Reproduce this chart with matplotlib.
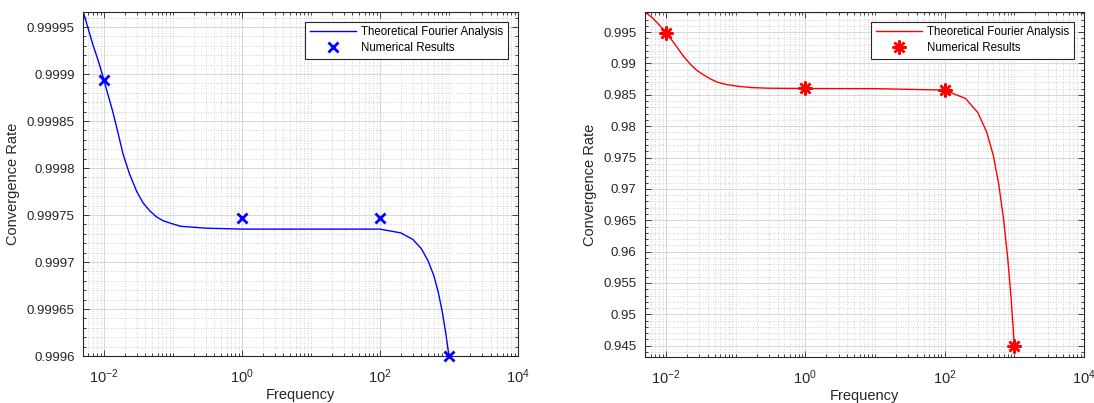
import matplotlib
matplotlib.use("Agg")
import matplotlib.pyplot as plt
from matplotlib.ticker import FixedLocator, FixedFormatter, MultipleLocator, FuncFormatter

plt.rcParams['font.family'] = ['Liberation Sans', 'DejaVu Sans']
plt.rcParams['mathtext.fontset'] = 'custom'
plt.rcParams['mathtext.rm'] = 'Liberation Sans'
plt.rcParams['mathtext.it'] = 'Liberation Sans:italic'

# ---- data ----
freq_theory = [0.005, 0.0069, 0.0085, 0.01, 0.0115, 0.0135, 0.016, 0.019, 0.0235, 0.030,
               0.037, 0.047, 0.058, 0.072, 0.095, 0.13, 0.2, 0.3, 1, 10,
               100, 200, 300, 400, 500, 600, 700, 800, 900, 1000]
rate_theory_left = [0.999967, 0.999932, 0.999912, 0.999894, 0.999878, 0.99986, 0.999838,
                    0.999815, 0.999794, 0.999775, 0.999763, 0.999754, 0.999748,
                    0.999744, 0.999741, 0.999738, 0.999737, 0.999736, 0.999735, 0.999735,
                    0.999735, 0.999731, 0.999724, 0.999714, 0.999701, 0.999686,
                    0.999668, 0.999647, 0.999624, 0.9996]

freq_theory_r = [0.005, 0.0062, 0.0074, 0.0086, 0.01, 0.012, 0.0145, 0.0175, 0.0225, 0.028,
                 0.035, 0.044, 0.055, 0.075, 0.107, 0.17, 0.3, 1, 10,
                 100, 200, 300, 400, 500, 600, 700, 800, 900, 1000]
rate_theory_right = [0.99818, 0.99740, 0.99655, 0.99575, 0.99490, 0.99380, 0.99255, 0.99125,
                     0.98985, 0.98885, 0.98815, 0.98750, 0.98700, 0.98662, 0.98636,
                     0.98615, 0.98605, 0.98600, 0.98598,
                     0.98575, 0.98440, 0.98215, 0.97910, 0.97531, 0.97060, 0.96520,
                     0.95920, 0.95250, 0.94490]

freq_num = [0.01, 1, 100, 1000]
rate_num_left = [0.999894, 0.999747, 0.999747, 0.9996]
rate_num_right = [0.99490, 0.98603, 0.98575, 0.94490]

xtick_vals = [1e-2, 1e0, 1e2, 1e4]
xtick_labels = ['$10^{-2}$', '$10^{0}$', '$10^{2}$', '$10^{4}$']
yticks_left = [0.9996, 0.99965, 0.9997, 0.99975, 0.9998, 0.99985, 0.9999, 0.99995]
yticks_right = [0.945, 0.95, 0.955, 0.96, 0.965, 0.97, 0.975, 0.98, 0.985, 0.99, 0.995]

TXT = '#262626'
fig = plt.figure(figsize=(10.94, 4.03), dpi=100)
ax1 = fig.add_axes([83/1094, 1-356/403, 435/1094, 344/403])
ax2 = fig.add_axes([645/1094, 1-357/403, 439/1094, 345/403])

minor_x = [m * 10.0**k for k in range(-3, 4) for m in range(1, 10)
           if not (m == 1 and k in (-2, 0, 2))]


def style(ax, yt, ylim, yminor):
    ax.set_xscale('log')
    ax.set_xlim(0.005, 1e4)
    ax.set_ylim(*ylim)
    ax.xaxis.set_major_locator(FixedLocator(xtick_vals))
    ax.xaxis.set_major_formatter(FixedFormatter(xtick_labels))
    ax.xaxis.set_minor_locator(FixedLocator(minor_x))
    ax.xaxis.set_minor_formatter(FuncFormatter(lambda v, p: ''))
    ax.yaxis.set_major_locator(FixedLocator(yt))
    ax.yaxis.set_major_formatter(FixedFormatter(['%g' % v for v in yt]))
    ax.yaxis.set_minor_locator(MultipleLocator(yminor))
    ax.tick_params(which='both', direction='in', top=True, right=True,
                   colors=TXT, labelsize=9.5, width=0.6)
    ax.tick_params(which='major', length=4)
    ax.tick_params(which='minor', length=2)
    ax.tick_params(axis='x', pad=8, labelsize=10.5)
    ax.tick_params(axis='y', pad=6)
    for s in ax.spines.values():
        s.set_color(TXT)
        s.set_linewidth(0.8)
    ax.grid(True, which='major', color='#d6d6d6', linewidth=0.7, linestyle='-')
    ax.grid(True, which='minor', color='#c4c4c4', linewidth=0.6, linestyle=(0, (1, 2)))
    ax.set_axisbelow(True)
    ax.set_xlabel('Frequency', fontsize=10.5, color=TXT, labelpad=1.5)
    ax.set_ylabel('Convergence Rate', fontsize=10.5, color=TXT, labelpad=5)


style(ax1, yticks_left, (0.9996, 0.999966), 0.00001)
style(ax2, yticks_right, (0.9432, 0.9982), 0.001)

ax1.plot(freq_theory, rate_theory_left, color='#0000ff', lw=1.0,
         label='Theoretical Fourier Analysis')
ax1.plot(freq_num, rate_num_left, linestyle='none', marker='x', color='#0000ff',
         markersize=7, mew=2, label='Numerical Results', clip_on=False, zorder=5)

ax2.plot(freq_theory_r, rate_theory_right, color='#ff0000', lw=1.0,
         label='Theoretical Fourier Analysis')
ax2.plot(freq_num, rate_num_right, linestyle='none', marker=(8, 2, 0), color='#ff0000',
         markersize=10, mew=1.8, label='Numerical Results', zorder=5)

for ax in (ax1, ax2):
    leg = ax.legend(loc='upper right', fontsize=8.3, frameon=True, fancybox=False,
                    framealpha=1, edgecolor='#262626', borderaxespad=0.85,
                    handlelength=4.0, handletextpad=0.5, labelspacing=0.35,
                    borderpad=0.4)
    leg.get_frame().set_linewidth(0.8)
    for t in leg.get_texts():
        t.set_color('#000000')

fig.savefig('out.png', dpi=100)
